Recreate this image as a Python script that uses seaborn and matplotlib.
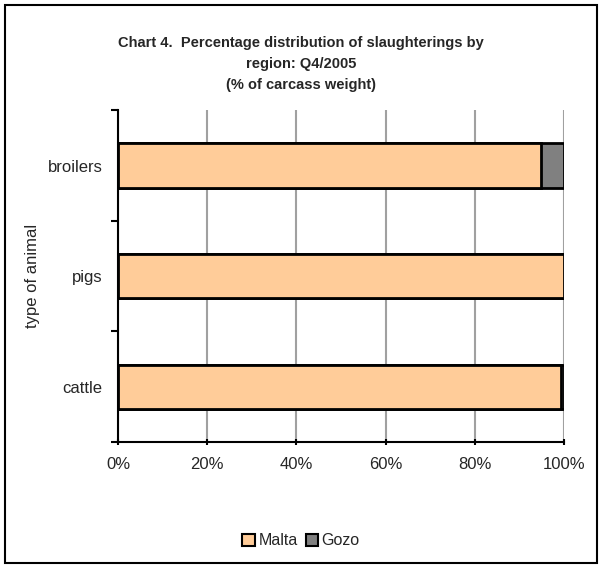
import pandas as pd
import matplotlib.pyplot as plt
import seaborn as sns
from matplotlib.patches import Patch, Rectangle
from matplotlib.ticker import PercentFormatter

# --- Datos ---
animales = ['broilers', 'pigs', 'cattle']
malta = [94.8, 100.0, 99.3]
gozo = [5.2, 0.0, 0.7]

df = pd.DataFrame({'animal': animales, 'Malta': malta, 'Gozo': gozo})
df['Total'] = df['Malta'] + df['Gozo']

sns.set_style("white")
plt.rcParams['font.family'] = ['Liberation Sans', 'DejaVu Sans']

color_malta = '#FFCC99'
color_gozo = '#808080'

fig = plt.figure(figsize=(6.02, 5.67), dpi=100)
ax = fig.add_axes([0.196, 0.2205, 0.741, 0.585])

# barras apiladas: total (Gozo) debajo, Malta encima
sns.barplot(data=df, y='animal', x='Total', order=animales, color=color_gozo, saturation=1,
            edgecolor='black', linewidth=2, width=0.4, ax=ax, orient='h')
sns.barplot(data=df, y='animal', x='Malta', order=animales, color=color_malta, saturation=1,
            edgecolor='black', linewidth=2, width=0.4, ax=ax, orient='h')

ax.set_xlim(0, 100)
ax.set_ylim(2.5, -0.5)
ax.xaxis.set_major_formatter(PercentFormatter(decimals=0))
ax.set_xticks([0, 20, 40, 60, 80, 100])
ax.set_yticks([-0.5, 0.5, 1.5, 2.5], minor=True)
ax.set_yticks([0, 1, 2])
ax.set_yticklabels(animales)
ax.tick_params(axis='y', which='major', length=0, pad=11, labelsize=12)
ax.tick_params(axis='y', which='minor', length=5, width=1.5, direction='out', color='black', left=True)
ax.tick_params(axis='x', length=5, width=1.5, direction='inout', color='black', bottom=True, labelsize=12, pad=8)
ax.xaxis.grid(True, color='#A0A0A0', linewidth=1.5)
ax.set_axisbelow(True)
for lado in ['top', 'right']:
    ax.spines[lado].set_visible(False)
for lado in ['left', 'bottom']:
    ax.spines[lado].set_color('black')
    ax.spines[lado].set_linewidth(1.5)

ax.set_xlabel('')
ax.set_ylabel('type of animal', fontsize=12, labelpad=6)

fig.text(0.5, 0.937, 'Chart 4.  Percentage distribution of slaughterings by\nregion: Q4/2005\n(% of carcass weight)',
         ha='center', va='top', fontsize=10.5, fontweight='bold', linespacing=1.65)

handles = [Patch(facecolor=color_malta, edgecolor='black', linewidth=1.5, label='Malta'),
           Patch(facecolor=color_gozo, edgecolor='black', linewidth=1.5, label='Gozo')]
fig.legend(handles=handles, loc='center', bbox_to_anchor=(0.5, 0.046), ncol=2, frameon=False,
           fontsize=11.5, handlelength=0.8, handleheight=0.8, handletextpad=0.2, columnspacing=0.5)

fig.patches.append(Rectangle((0.008, 0.007), 0.984, 0.984, transform=fig.transFigure,
                             fill=False, edgecolor='black', linewidth=1.5))

plt.savefig('out.png', dpi=100)
plt.close()
